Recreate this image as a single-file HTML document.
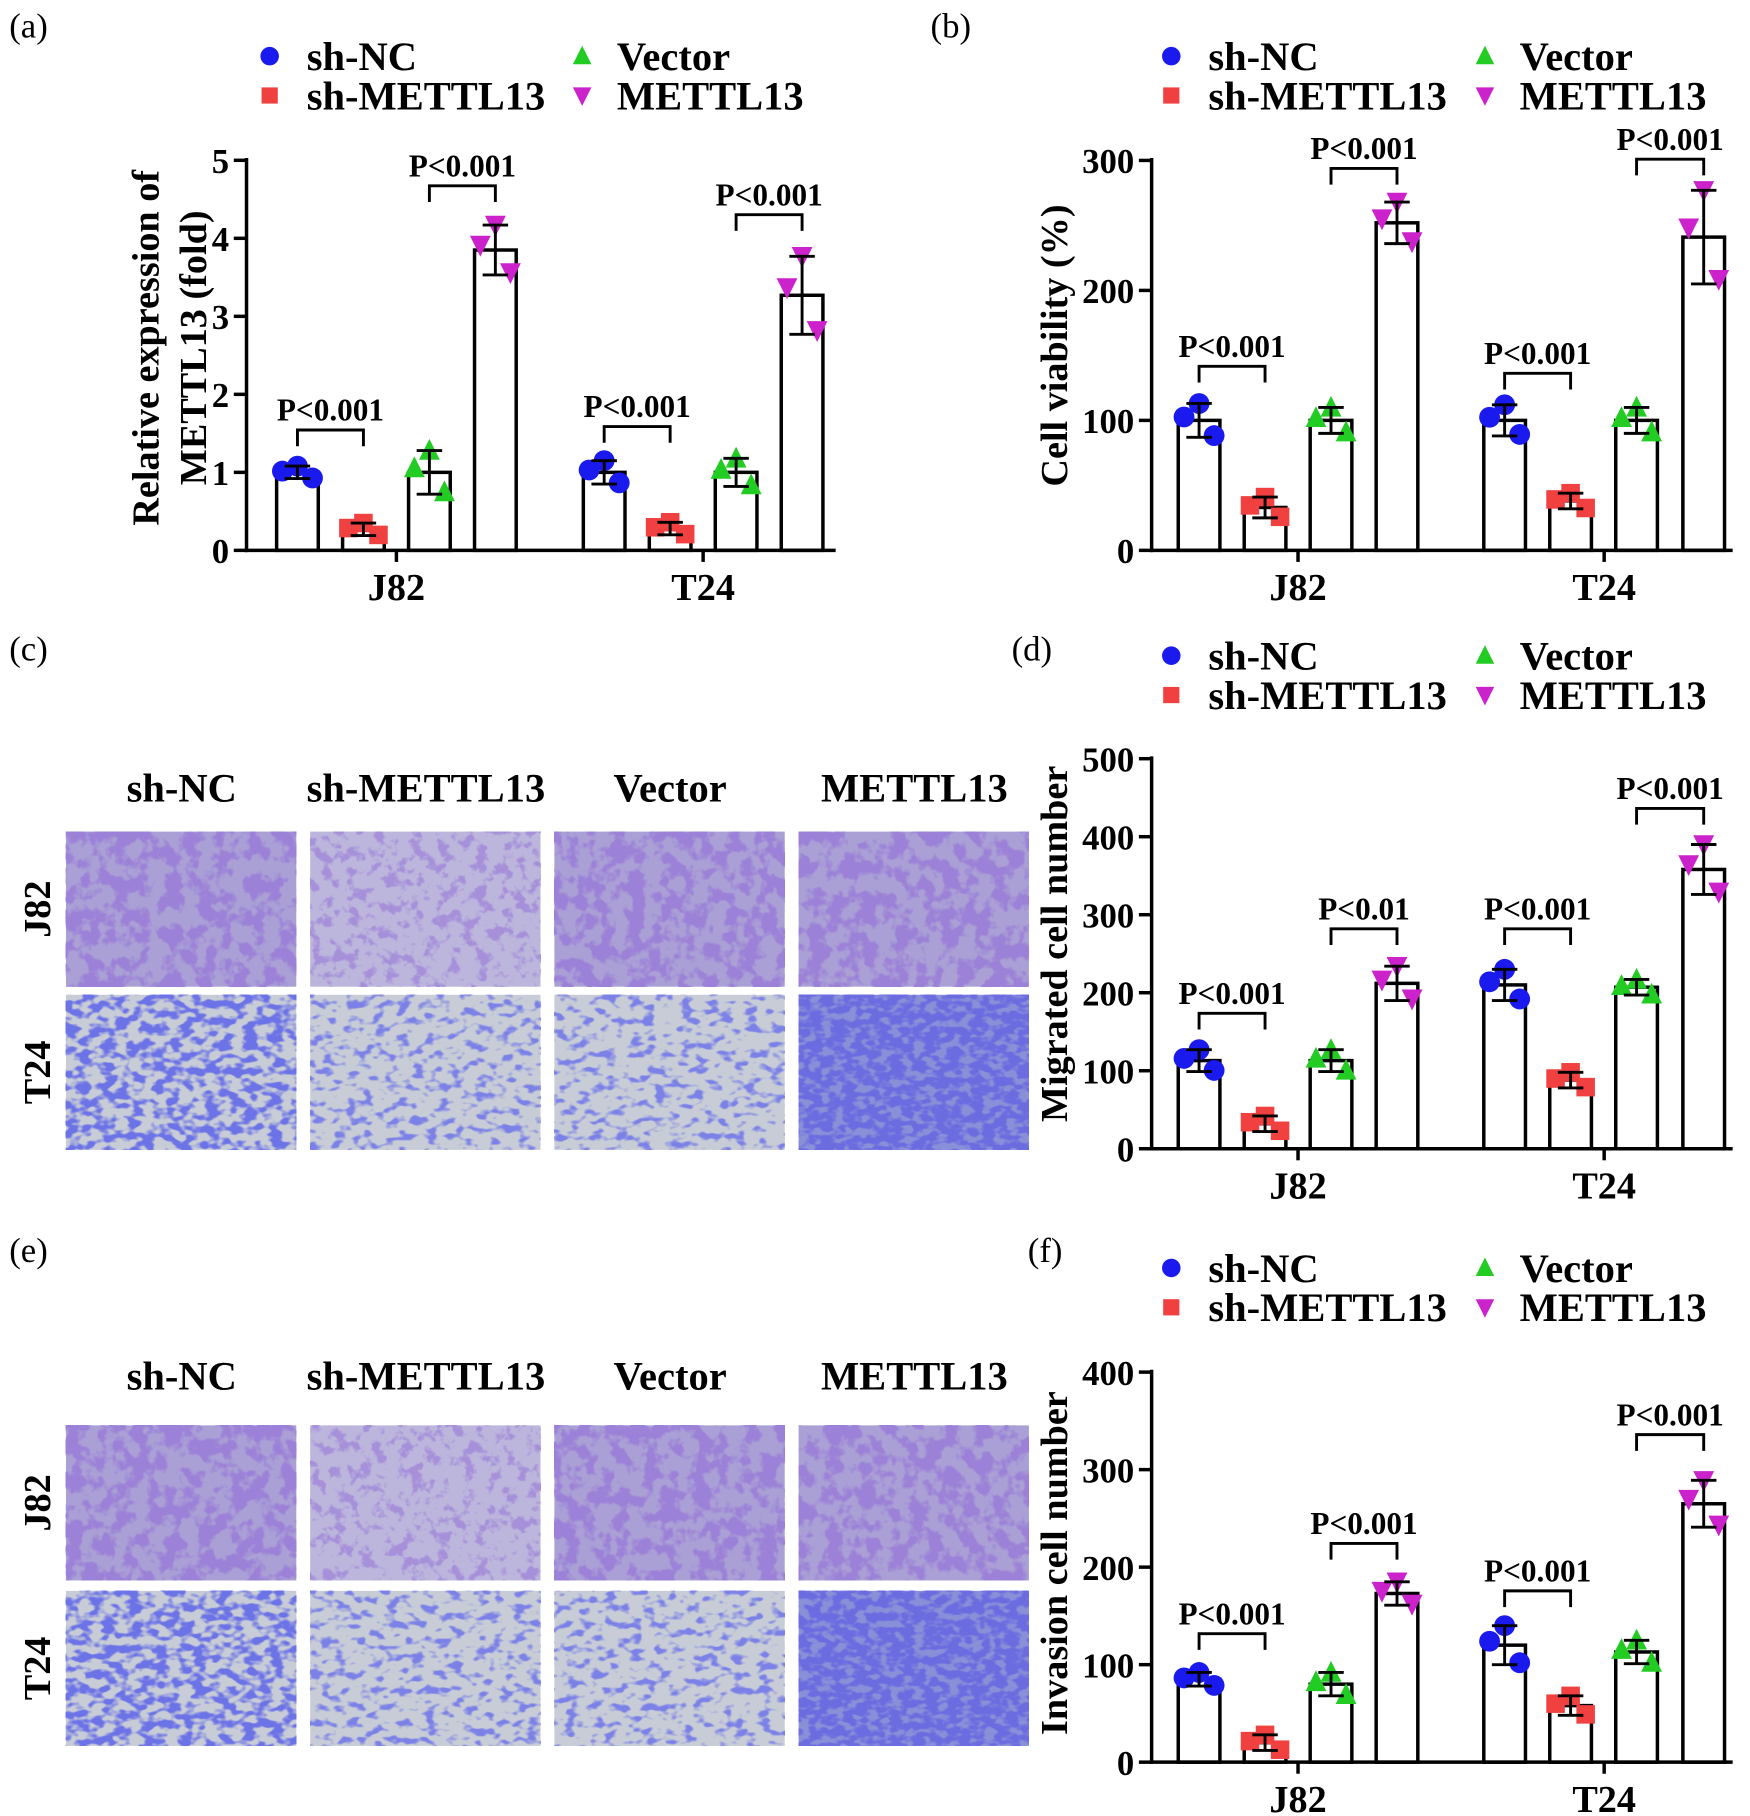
<!DOCTYPE html>
<html><head><meta charset="utf-8"><style>
html,body{margin:0;padding:0;background:#fff;}
svg{display:block;font-family:"Liberation Serif",serif;}
</style></head><body>
<svg id="s" xmlns="http://www.w3.org/2000/svg" width="1750" height="1816" viewBox="0 0 1512 1568">
<defs>
<filter id="fjA" x="0" y="0" width="100%" height="100%"><feTurbulence type="fractalNoise" baseFrequency="0.07" numOctaves="3" seed="3"/><feColorMatrix values="0 0 0 0 0.33  0 0 0 0 0.22  0 0 0 0 0.68  -7 0 0 0 3.9"/></filter>
<filter id="fjB" x="0" y="0" width="100%" height="100%"><feTurbulence type="fractalNoise" baseFrequency="0.09" numOctaves="3" seed="7"/><feColorMatrix values="0 0 0 0 0.38  0 0 0 0 0.28  0 0 0 0 0.7  -7 0 0 0 3.4"/></filter>
<filter id="ftA" x="0" y="0" width="100%" height="100%"><feTurbulence type="fractalNoise" baseFrequency="0.09 0.14" numOctaves="2" seed="5"/><feColorMatrix values="0 0 0 0 0.15  0 0 0 0 0.17  0 0 0 0 0.8  -6 0 0 0 3.4"/></filter>
<filter id="ftB" x="0" y="0" width="100%" height="100%"><feTurbulence type="fractalNoise" baseFrequency="0.09 0.14" numOctaves="2" seed="11"/><feColorMatrix values="0 0 0 0 0.2  0 0 0 0 0.22  0 0 0 0 0.8  -6 0 0 0 2.9"/></filter>
<filter id="ftC" x="0" y="0" width="100%" height="100%"><feTurbulence type="fractalNoise" baseFrequency="0.1 0.16" numOctaves="2" seed="13"/><feColorMatrix values="0 0 0 0 0.15  0 0 0 0 0.15  0 0 0 0 0.75  -6 0 0 0 3.8"/></filter>
</defs>
</svg>
<script>
var s=document.getElementById('s'),NS='http://www.w3.org/2000/svg';
function el(t,a,txt){var e=document.createElementNS(NS,t);for(var k in a)e.setAttribute(k,a[k]);if(txt!=null)e.textContent=txt;s.appendChild(e);return e;}
function tx(x,y,t,sz,anc,w,rot){var a={x:x,y:y,'font-size':sz,'text-anchor':anc||'middle','font-weight':w||'bold'};if(rot)a.transform='rotate(-90 '+x+' '+y+')';return el('text',a,t);}
var COL=['#1a1aee','#f04040','#22cc22','#cc22cc'];
function marker(i,x,y,r){r=r||9;
 if(i==0)el('circle',{cx:x,cy:y,r:r,fill:COL[0]});
 else if(i==1)el('rect',{x:x-r+1,y:y-r+1,width:2*r-2,height:2*r-2,fill:COL[1]});
 else if(i==2)el('polygon',{points:(x)+','+(y-r-1)+' '+(x-r)+','+(y+r-1)+' '+(x+r)+','+(y+r-1),fill:COL[2]});
 else el('polygon',{points:(x)+','+(y+r+1)+' '+(x-r)+','+(y-r+1)+' '+(x+r)+','+(y-r+1),fill:COL[3]});}
function legend(x1,x2,y){
 marker(0,x1,y,8);tx(x1+32,y+12,'sh-NC',35,'start');
 marker(2,x2,y,8);tx(x2+30,y+12,'Vector',35,'start');
 marker(1,x1,y+34,8);tx(x1+32,y+46,'sh-METTL13',35,'start');
 marker(3,x2,y+34,8);tx(x2+30,y+46,'METTL13',35,'start');}
function chart(o){
 var ax=o.ax,y0=o.y0,ppu=o.ppu;
 function Y(v){return y0-v*ppu;}
 for(var g=0;g<2;g++)for(var i=0;i<4;i++){
  var cx=o.cx[g][i],v=o.v[g][i],sd=o.sd[g][i];
  el('rect',{x:cx-18,y:Y(v),width:36,height:y0-Y(v),fill:'#fff',stroke:'#000','stroke-width':3});
  var pts=[[cx-13,v+sd*0.2],[cx+13,v-sd*0.9],[cx,v+sd*1.0]];
  pts.forEach(function(p){marker(i,p[0],Y(p[1]));});
  el('line',{x1:cx,x2:cx,y1:Y(v+sd),y2:Y(v-sd),stroke:'#000','stroke-width':2.5});
  el('line',{x1:cx-11,x2:cx+11,y1:Y(v+sd),y2:Y(v+sd),stroke:'#000','stroke-width':2.5});
  el('line',{x1:cx-11,x2:cx+11,y1:Y(v-sd),y2:Y(v-sd),stroke:'#000','stroke-width':2.5});
 }
 el('line',{x1:ax,x2:ax,y1:o.top,y2:y0+1.5,stroke:'#000','stroke-width':3});
 el('line',{x1:ax-1.5,x2:o.right,y1:y0,y2:y0,stroke:'#000','stroke-width':3});
 o.ticks.forEach(function(t){var y=Y(t);el('line',{x1:ax-11,x2:ax,y1:y,y2:y,stroke:'#000','stroke-width':3});tx(ax-15,y+11,String(t),30,'end');});
 [0,1].forEach(function(g){var m=(o.cx[g][0]+o.cx[g][3])/2;el('line',{x1:m,x2:m,y1:y0,y2:y0+10,stroke:'#000','stroke-width':3});tx(m,y0+43,g?'T24':'J82',33);});
 o.br.forEach(function(b){var g=b[0],p=b[1],y=b[2],a=o.cx[g][p*2],c=o.cx[g][p*2+1];
  el('polyline',{points:a+','+(y+14)+' '+a+','+y+' '+c+','+y+' '+c+','+(y+14),fill:'none',stroke:'#000','stroke-width':2.5});
  tx((a+c)/2,y-8,b[3]||'P<0.001',27);});
}
tx(8,32,'(a)',30,'start','normal');tx(804,32,'(b)',30,'start','normal');
tx(8,570,'(c)',30,'start','normal');tx(874,570,'(d)',30,'start','normal');
tx(8,1090,'(e)',30,'start','normal');tx(888,1090,'(f)',30,'start','normal');
legend(233,503,48);legend(1012,1283,48);legend(1012,1283,566);legend(1012,1283,1095);
var cxL=[[257,314,371,428],[522,579,636,693]],cxR=[[1036,1093,1150,1207],[1300,1357,1414,1472]];
chart({ax:213,y0:475,ppu:67.4,top:136,right:722,cx:cxL,ticks:[0,1,2,3,4,5],
 v:[[1,0.27,1,3.85],[1,0.28,1,3.27]],sd:[[0.08,0.08,0.28,0.32],[0.15,0.08,0.18,0.5]],
 br:[[0,0,371],[0,1,160],[1,0,368],[1,1,185]]});
tx(137,300,'Relative expression of',33,'middle','bold',1);tx(178,300,'METTL13 (fold)',33,'middle','bold',1);
chart({ax:995,y0:475,ppu:1.123,top:136,right:1497,cx:cxR,ticks:[0,100,200,300],
 v:[[100,33,100,252],[100,38,100,241]],sd:[[13,8,10,16],[12,6,10,36]],
 br:[[0,0,316],[0,1,145],[1,0,322],[1,1,137]]});
tx(922,298,'Cell viability (%)',33,'middle','bold',1);
chart({ax:995,y0:992,ppu:0.674,top:653,right:1497,cx:cxR,ticks:[0,100,200,300,400,500],
 v:[[113,32,113,212],[210,88,207,358]],sd:[[14,10,14,22],[20,10,10,32]],
 br:[[0,0,875],[0,1,802,'P<0.01'],[1,0,802],[1,1,698]]});
tx(922,815,'Migrated cell number',33,'middle','bold',1);
chart({ax:995,y0:1522,ppu:0.8425,top:1183,right:1497,cx:cxR,ticks:[0,100,200,300,400],
 v:[[85,20,80,173],[120,58,113,265]],sd:[[7,8,12,12],[20,10,12,24]],
 br:[[0,0,1411],[0,1,1333],[1,0,1374],[1,1,1239]]});
tx(922,1350,'Invasion cell number',33,'middle','bold',1);
var cols=[57,268,479,690],names=['sh-NC','sh-METTL13','Vector','METTL13'];
function panel(hy,r1,r2){
 cols.forEach(function(x,i){tx(x+100,hy,names[i],35);});
 cols.forEach(function(x,i){
  el('rect',{x:x,y:r1,width:199,height:134,fill:i==1?'#bcb5dc':'#aaa0d6'});
  el('rect',{x:x,y:r1,width:199,height:134,filter:i==1?'url(#fjB)':'url(#fjA)'});
  el('rect',{x:x,y:r2,width:199,height:134,fill:i==3?'#8a90d8':'#c7ccd6'});
  el('rect',{x:x,y:r2,width:199,height:134,filter:i==3?'url(#ftC)':(i==0?'url(#ftA)':'url(#ftB)')});
 });
 tx(43,r1+67,'J82',33,'middle','bold',1);tx(43,r2+67,'T24',33,'middle','bold',1);
}
panel(692,718,859);panel(1200,1231,1374);
</script>
</body></html>
